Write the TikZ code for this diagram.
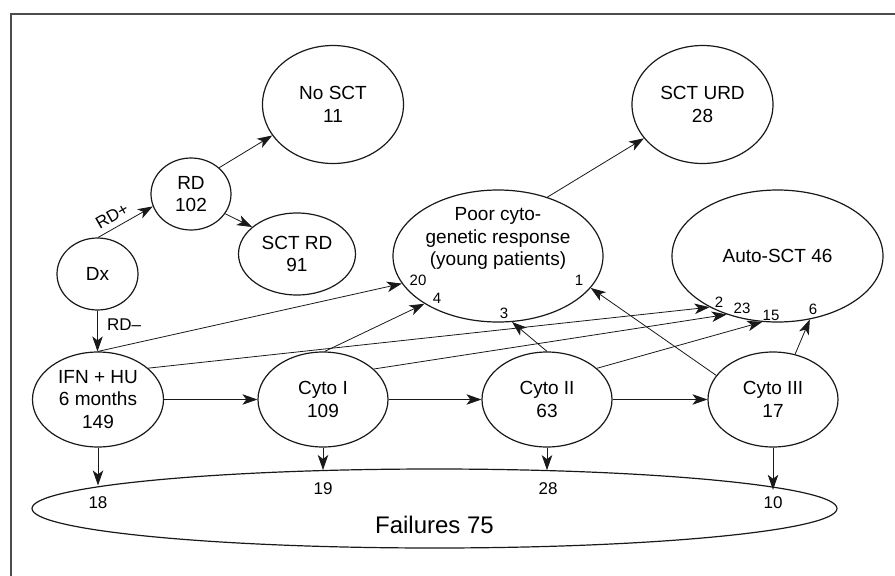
\documentclass[tikz,border=0pt]{standalone}
\usepackage{fontspec}
\setmainfont{Liberation Sans}
\usetikzlibrary{shapes.geometric,arrows.meta}
\begin{document}
\begin{tikzpicture}[x=1pt,y=-1pt,
  ell/.style={draw=black!90, line width=1.2pt, ellipse, inner sep=0pt, align=center,
              font=\fontsize{19}{22.5}\selectfont},
  txt/.style={inner sep=0pt, align=center, font=\fontsize{19}{22.5}\selectfont},
  conn/.style={draw=black!90, line width=0.8pt},
  arr/.style={conn, -{Stealth[length=15pt,width=10.5pt,inset=4pt]}},
  num/.style={font=\fontsize{15}{18}\selectfont, inner sep=0pt},
  fnum/.style={font=\fontsize{17}{20}\selectfont, inner sep=0pt}]
\useasboundingbox (0,0) rectangle (895,576);
% frame
\draw[line width=2pt, draw=black!70] (895,14) -- (11,14) -- (11,576);

% nodes
\node[ell, minimum width=141pt, minimum height=118pt] (nosct) at (333,104.5) {No SCT\\11};
\node[ell, minimum width=141pt, minimum height=118pt] (scturd) at (702.5,104.5) {SCT URD\\28};
\node[ell, minimum width=80pt, minimum height=72pt] (rd) at (191,194) {RD\\102};
\node[ell, minimum width=117pt, minimum height=82pt] (sctrd) at (297,254) {SCT RD\\91};
\node[ell, minimum width=81pt, minimum height=72pt] (dx) at (97.5,274) {Dx};
\node[ell, minimum width=210pt, minimum height=132pt] (poor) at (498,256) {};
\node[txt] (poortxt) at (498,238.5) {Poor cyto-\\genetic response\\(young patients)};
\node[ell, minimum width=211pt, minimum height=132pt] (auto) at (777.5,256) {Auto-SCT 46};
\node[ell, minimum width=131pt, minimum height=95pt] (ifn) at (98,399.5) {IFN + HU\\6 months\\149};
\node[ell, minimum width=130pt, minimum height=95pt] (c1) at (323,399.5) {Cyto I\\109};
\node[ell, minimum width=130pt, minimum height=95pt] (c2) at (547,399.5) {Cyto II\\63};
\node[ell, minimum width=130pt, minimum height=95pt] (c3) at (773,399.5) {Cyto III\\17};
\node[ell, minimum width=805pt, minimum height=79pt] (fail) at (434.5,508.5) {};
\node[inner sep=0pt, font=\fontsize{24}{28}\selectfont] (failtxt) at (434.5,525) {Failures 75};

% top-left connectors
\draw[arr] (dx.89) -- (rd.198);
\node[fnum, rotate=30] (rdplus) at (112,216) {RD+};
\draw[arr] (rd.43) -- (nosct.207.6);
\draw[arr] (rd.330.8) -- (sctrd.149);
\draw[arr] (dx.south) -- (dx.south |- ifn.north);
\node[fnum, anchor=west] (rdminus) at (107,325) {RD–};
\draw[arr] (poor.50.8) -- (scturd.210.8);

% horizontal chain
\draw[arr] (ifn.east) -- (c1.west);
\draw[arr] (c1.east) -- (c2.west);
\draw[arr] (c2.east) -- (c3.west);

% to failures
\draw[arr] (ifn.south) -- (ifn.south |- fail.176.31);
\draw[arr] (c1.south) -- (c1.south |- fail.161.18);
\draw[arr] (c2.south) -- (c2.south |- fail.18.66);
\draw[arr] (c3.south) -- (c3.south |- fail.3.62);
\node[fnum] (n18) at (98,503) {18};
\node[fnum] (n19) at (323,489) {19};
\node[fnum] (n28) at (548,489) {28};
\node[fnum] (n10) at (773,503) {10};

% to poor response
\draw[arr] (ifn.north) -- (poor.196.8);
\draw[arr] (c1.88) -- (poor.213.9);
\draw[arr] (c2.north) -- (poor.282.6);
\draw[arr] (c3.157.1) -- (poor.341.7);
\node[num] (n20) at (418,280) {20};
\node[num] (n4) at (437,298) {4};
\node[num] (n3) at (504,313) {3};
\node[num] (n1) at (579,280) {1};

% to auto-SCT
\draw[arr] (ifn.32.2) -- (auto.217.6);
\draw[arr] (c1.31) -- (auto.229.4);
\draw[arr] (c2.32.5) -- (auto.257);
\draw[arr] (c3.64.7) -- (auto.297.6);
\node[num] (n2) at (719,302) {2};
\node[num] (n23) at (742,308) {23};
\node[num] (n15) at (771,315) {15};
\node[num] (n6) at (813,309) {6};
\end{tikzpicture}
\end{document}
